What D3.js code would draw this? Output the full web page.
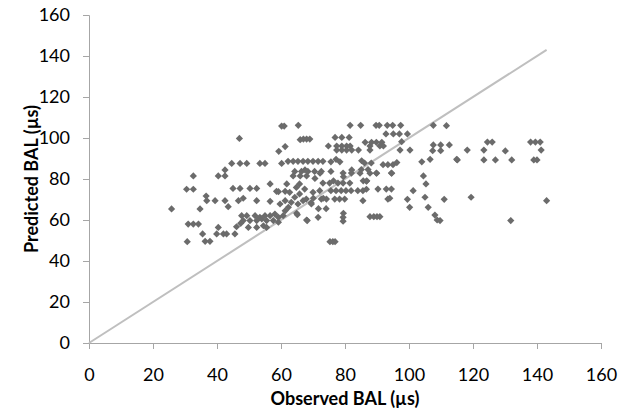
<!DOCTYPE html>
<html><head><meta charset="utf-8">
<script src="https://cdn.jsdelivr.net/npm/d3@7"></script>
<style>body{margin:0;background:#fff}svg{display:block}text{font-family:Lato,"Open Sans",sans-serif}</style>
</head><body><svg id="c" width="631" height="418"></svg>
<script>
const xTicks = [0,20,40,60,80,100,120,140,160];
const yTicks = [0,20,40,60,80,100,120,140,160];
const xTitle = "Observed BAL (µs)";
const yTitle = "Predicted BAL (µs)";
const lineStart = [0,0];
const lineEnd = [143,143];
const observed = [
60.2,61,65.4,81.6,84.9,89.7,90.7,93.2,94.9,97.4,107.6,111.7,
47,66,67,68,69,76.9,79,81.3,92.8,95.1,97,99.5,59.3,61.3,
86.3,88.3,89.8,91.5,97.7,74.8,77.4,79,80.5,81.6,87.8,90.9,92,107.6,109.9,112.6,
77.4,79,80.5,82.1,84.2,87.8,97.2,100.3,107.4,109.9,
118.2,115.1,124.5,126,123.4,123.4,127,132.1,130.1,138,139.5,141,141.3,139,140,
44.6,47.2,49.3,53.4,55,60.2,62.2,63.8,65.3,66.9,68.4,70,71.6,73.1,75.6,77.2,78.4,85.2,86.1,88.2,91.9,93.4,95,96.2,104,106.6,114.9,
32.6,40.4,42.5,42.5,63.8,66,68,64.3,66.4,68.4,70.5,72.6,75.6,
67.5,70.6,72.2,76.4,79.5,82.1,84.7,85.7,86.8,87.8,89.9,94.6,104.5,105.3,
85.1,87.2,79.4,82,89.8,94.5,73.1,75.2,77.8,79.4,81.5,86.7,
30.5,32.6,45,47.2,50.3,52.4,56.6,59.2,61.8,58.6,61.3,
62.7,64.8,65.8,67.4,65.8,70,72.1,75.6,77.2,78.8,80.3,81.9,84,85.6,86.7,90.3,92.9,94.5,101.3,
36.6,36.8,39.4,42.5,43.5,46.7,48.2,52.4,56.6,59.7,61.3,62.3,
64.3,66.9,63.2,65.3,67.9,69.5,72.6,74.2,70.1,73.2,76.8,78.3,79.9,85.6,93.4,94,99.5,105,111,119.4,143,100.2,106,
69.4,71.7,74.1,
25.8,34.7,61.3,64.9,65.1,
47.7,49.3,51.9,53.4,55,56.6,58.1,59.2,60.7,48.2,50.3,52.4,54,55.5,57.6,59.2,49.8,52.4,54.5,55.5,
46.1,47.4,68,71.6,79.5,79.4,79.4,68.2,
87.8,89,90,90.9,108.1,108.8,109.7,131.8,
31,32.6,34.2,40.4,
35.5,39.9,42,43,45.6,30.7,36.3,37.8,75.3,76.2,76.9
];
const predicted = [
105.8,105.8,106.2,106.2,106.2,106.2,106.2,106.2,106.2,106.2,106.2,106,
99.8,99.2,99.5,99.5,99.5,100.3,100.3,100.3,102,102,102,102,93.5,95.8,
97.9,97.9,97.9,97.9,98.2,96.1,96.1,96.1,96.1,96.1,96.1,96.1,96.1,96.6,96.6,96.6,
94.1,94.1,94.1,94.1,94.1,94.1,94.1,94.1,93.8,93.8,
94.1,89.3,98,98,94.1,89.3,89.3,89.3,93.7,98,98,98,94.1,89.3,89.3,
87.6,87.6,87.6,87.6,87.6,87.6,88.6,88.6,88.6,88.6,88.6,88.6,88.6,88.6,88.4,89.6,88.4,88.9,87.8,87.8,87,87,87,88,88.4,89.6,89.6,
81.5,81.5,81.5,84.4,81.5,81.5,81.5,83.7,83.7,83.7,83.7,83.7,83.7,
84.4,80.3,82.8,79.1,81.1,84.4,82.8,79.1,79.1,82.8,82.8,82.8,81.5,77.6,
84.6,84.6,82.9,82.9,82.9,82.9,78,78,78,78,78,78.9,
75,75,75.4,75.4,75.4,75.4,77.6,73.8,77.6,74,74,
73.5,75.9,77.6,75.1,72.7,73.5,74.3,74.3,74.3,74.3,74.3,74.3,74.3,74.3,75,75.1,75.1,75.1,74.3,
71.7,69.4,69.4,69.4,66.5,69.4,70.6,69.4,69.1,67.8,69.4,66.2,
71.1,69.4,68.6,67.8,70.2,67.8,70.2,70.2,70.6,70.6,70.2,70.2,70.2,69.4,70.2,70.6,70.1,71.1,70.1,71.1,69.4,66.2,66.2,
68.4,65.5,65.5,
65.4,65.4,64.5,63.3,62.6,
62.1,62.1,62.1,61.3,62.1,62.1,62.9,61.3,62.1,59.7,59.7,59.7,60.5,59.7,59.7,58.9,56.4,56.4,57.2,56.4,
56.7,58.4,60,61.3,63.3,61.3,59.4,59.7,
61.6,61.6,61.6,61.6,62.4,60,59.7,59.7,
58,58,58,56.4,
53.2,53.2,53.2,53.2,53.2,49.4,49.6,49.6,49.4,49.4,49.4
];

const svg = d3.select("#c");
const m = {l:89, r:601, t:15, b:343};
const x = d3.scaleLinear().domain([0,160]).range([m.l, m.r]);
const y = d3.scaleLinear().domain([0,160]).range([m.b, m.t]);
const axisCol = "#a6a6a6";

const gx = svg.append("g").attr("transform",`translate(0,${m.b})`)
  .call(d3.axisBottom(x).tickValues(xTicks).tickSize(6).tickPadding(19));
const gy = svg.append("g").attr("transform",`translate(${m.l},0)`)
  .call(d3.axisLeft(y).tickValues(yTicks).tickSize(6).tickPadding(13));
[gx,gy].forEach(g=>{
  g.select(".domain").attr("stroke",axisCol).attr("stroke-width",1);
  g.selectAll(".tick line").attr("stroke",axisCol);
  g.selectAll(".tick text").attr("fill","#000").style("font-size","18px").style("font-family","Lato, 'Open Sans', sans-serif");
});

svg.append("line")
  .attr("x1",x(lineStart[0])).attr("y1",y(lineStart[1]))
  .attr("x2",x(lineEnd[0])).attr("y2",y(lineEnd[1]))
  .attr("stroke","#bfbfbf").attr("stroke-width",2);

const sym = d3.symbol().type(d3.symbolSquare).size(26);
svg.append("g").selectAll("path").data(observed.map((v,i)=>[v,predicted[i]]))
  .join("path").attr("d",sym)
  .attr("transform",d=>`translate(${x(d[0])},${y(d[1])}) rotate(45)`)
  .attr("fill","#6b6b6b");

svg.append("text").attr("x",(m.l+m.r)/2).attr("y",405).attr("text-anchor","middle")
  .style("font-size","18px").style("font-weight","bold").text(xTitle);
svg.append("text").attr("transform",`translate(38,${(m.t+m.b)/2}) rotate(-90)`).attr("text-anchor","middle")
  .style("font-size","18px").style("font-weight","bold").text(yTitle);
</script></body></html>
